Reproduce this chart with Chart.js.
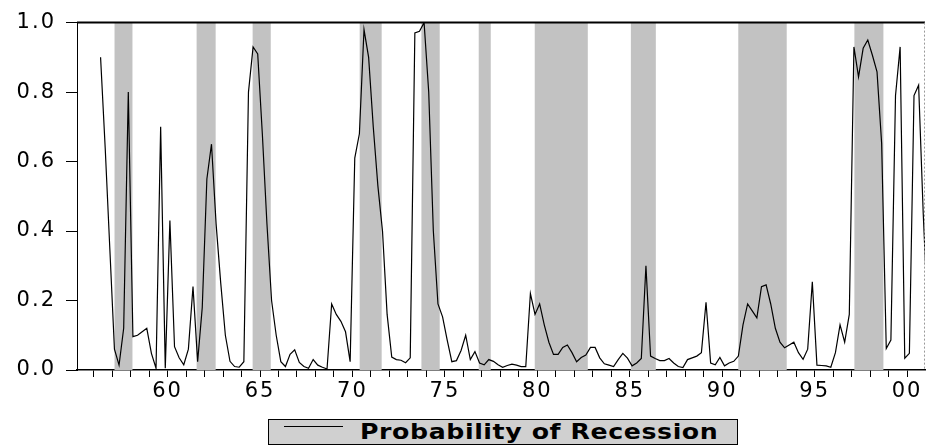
<!DOCTYPE html>
<html>
<head>
<meta charset="utf-8">
<script src="https://cdn.jsdelivr.net/npm/chart.js@4.4.1/dist/chart.umd.min.js"></script>
<style>
html,body{margin:0;padding:0;background:#fff;}
#wrap{position:relative;width:927px;height:446px;overflow:hidden;}
#legend{position:absolute;left:268px;top:419px;width:468px;height:24px;border:1px solid #000;background:#d0d0d0;}
#legend .sample{position:absolute;left:15px;top:6px;width:59px;height:0;border-top:1.5px solid #000;}
#legend .label{position:absolute;left:91px;top:0;font:bold 21px 'DejaVu Sans';line-height:24px;letter-spacing:0.5px;color:#000;white-space:nowrap;transform:scaleX(1.2);transform-origin:0 50%;}
</style>
</head>
<body>
<div id="wrap">
<canvas id="c" width="927" height="446"></canvas>
<div id="legend"><span class="sample"></span><span class="label">Probability of Recession</span></div>
</div>
<script>
// ---- data ----
const SERIES_NAME = 'Probability of Recession';
const START_YEAR = 1956;
const START_QUARTER = 2;
// quarterly probability of recession, 1956Q2 onward
const probability = [
  0.90, 0.64, 0.35, 0.06, 0.014, 0.12, 0.80, 0.096, 0.10, 0.11,
  0.12, 0.048, 0.005, 0.70, 0.005, 0.43, 0.067, 0.035, 0.015, 0.06,
  0.24, 0.024, 0.18, 0.55, 0.65, 0.42, 0.25, 0.10, 0.025, 0.01,
  0.008, 0.024, 0.80, 0.93, 0.91, 0.68, 0.42, 0.20, 0.10, 0.024,
  0.01, 0.045, 0.058, 0.022, 0.01, 0.005, 0.03, 0.014, 0.008, 0.003,
  0.19, 0.16, 0.14, 0.11, 0.024, 0.61, 0.68, 0.98, 0.90, 0.70,
  0.53, 0.40, 0.16, 0.037, 0.03, 0.028, 0.021, 0.035, 0.97, 0.975,
  1.00, 0.80, 0.40, 0.19, 0.153, 0.086, 0.024, 0.027, 0.056, 0.10,
  0.03, 0.053, 0.02, 0.015, 0.03, 0.025, 0.015, 0.008, 0.013, 0.017,
  0.014, 0.01, 0.01, 0.22, 0.16, 0.19, 0.13, 0.08, 0.045, 0.045,
  0.065, 0.072, 0.05, 0.024, 0.036, 0.043, 0.065, 0.065, 0.035, 0.018,
  0.014, 0.01, 0.03, 0.048, 0.034, 0.012, 0.02, 0.033, 0.30, 0.04,
  0.033, 0.027, 0.027, 0.033, 0.02, 0.01, 0.007, 0.03, 0.035, 0.04,
  0.05, 0.195, 0.02, 0.015, 0.036, 0.012, 0.02, 0.025, 0.04, 0.13,
  0.19, 0.17, 0.15, 0.24, 0.245, 0.19, 0.12, 0.08, 0.064, 0.072,
  0.08, 0.05, 0.031, 0.06, 0.254, 0.014, 0.013, 0.012, 0.008, 0.05,
  0.13, 0.08, 0.16, 0.93, 0.844, 0.926, 0.95, 0.906, 0.858, 0.652,
  0.062, 0.086, 0.79, 0.93, 0.034, 0.048, 0.79, 0.82, 0.45, 0.15
];
// shaded periods (start, end) in years since 1900
const bandStarts = [57.13, 61.57, 64.60, 70.39, 73.73, 76.83, 79.86, 85.06, 90.87, 97.15];
const bandEnds   = [58.10, 62.60, 65.58, 71.58, 74.72, 77.48, 82.73, 86.41, 93.49, 98.72];
const yTicks = [0, 0.2, 0.4, 0.6, 0.8, 1.0];
const xLabelYears = [60, 65, 70, 75, 80, 85, 90, 95, 100];
const xMinorFirst = 56, xMinorLast = 100;
const X_MIN = 55.10, X_MAX = 100.97;

// quarter labels, and each quarter's position (mid-quarter) on the year axis
const quarters = probability.map((_, i) => {
  const q0 = (START_QUARTER - 1) + i;
  return (START_YEAR + Math.floor(q0 / 4)) + 'Q' + (q0 % 4 + 1);
});
const points = probability.map((v, i) => {
  const q0 = (START_QUARTER - 1) + i;
  const yr = (START_YEAR - 1900) + Math.floor(q0 / 4) + (q0 % 4) / 4 + 0.125;
  return { x: yr, y: v, q: quarters[i] };
});

const bandPlugin = {
  id: 'bands',
  beforeDatasetsDraw(chart) {
    const { ctx, chartArea, scales } = chart;
    ctx.save();
    ctx.beginPath();
    ctx.rect(chartArea.left, chartArea.top, chartArea.right - chartArea.left, chartArea.bottom - chartArea.top);
    ctx.clip();
    ctx.fillStyle = '#c2c2c2';
    for (let k = 0; k < bandStarts.length; k++) {
      const x0 = scales.x.getPixelForValue(bandStarts[k]);
      const x1 = scales.x.getPixelForValue(bandEnds[k]);
      ctx.fillRect(x0, chartArea.top, x1 - x0, chartArea.bottom - chartArea.top);
    }
    ctx.restore();
  },
  afterDatasetsDraw(chart) {
    const { ctx, chartArea } = chart;
    ctx.save();
    ctx.strokeStyle = '#000';
    ctx.lineWidth = 2;
    ctx.beginPath();
    ctx.moveTo(chartArea.left, chartArea.top);
    ctx.lineTo(chartArea.right, chartArea.top);
    ctx.stroke();
    ctx.lineWidth = 1;
    ctx.strokeStyle = '#999';
    ctx.setLineDash([2, 2]);
    ctx.beginPath();
    ctx.moveTo(chartArea.right - 0.5, chartArea.top);
    ctx.lineTo(chartArea.right - 0.5, chartArea.bottom);
    ctx.stroke();
    ctx.restore();
  },
  beforeDraw(chart) {
    chart.ctx.letterSpacing = '2px';
  }
};

Chart.defaults.font.family = "'DejaVu Sans', sans-serif";
Chart.defaults.color = '#000';

new Chart(document.getElementById('c'), {
  type: 'line',
  data: {
    datasets: [{
      label: SERIES_NAME,
      data: points,
      borderColor: '#000',
      borderWidth: 1.2,
      pointRadius: 0,
      tension: 0,
      fill: false
    }]
  },
  options: {
    responsive: false,
    animation: false,
    devicePixelRatio: 1,
    layout: { padding: { top: 22, right: 2, bottom: 46, left: 0 } },
    plugins: { legend: { display: false }, tooltip: { enabled: false } },
    scales: {
      x: {
        type: 'linear',
        min: X_MIN,
        max: X_MAX,
        afterBuildTicks(scale) {
          const t = [];
          for (let y = xMinorFirst; y <= xMinorLast; y++) t.push({ value: y });
          scale.ticks = t;
        },
        afterFit(scale) { scale.height = 30; },
        ticks: {
          autoSkip: false,
          maxRotation: 0,
          padding: 2,
          font: { size: 21 },
          callback(v) {
            if (xLabelYears.includes(v)) return String(v % 100).padStart(2, '0');
            return '';
          }
        },
        grid: { drawOnChartArea: false, drawTicks: true, tickLength: 7, tickColor: '#000', tickWidth: 1 },
        border: { display: true, color: '#000', width: 1.5 }
      },
      y: {
        min: 0,
        max: 1,
        afterBuildTicks(scale) { scale.ticks = yTicks.map(v => ({ value: v })); },
        afterFit(scale) { scale.width = 77; },
        ticks: {
          padding: 10,
          font: { size: 21 },
          callback(v) { return Number(v).toFixed(1); }
        },
        grid: { drawOnChartArea: false, drawTicks: true, tickLength: 11, tickColor: '#000', tickWidth: 1 },
        border: { display: true, color: '#000', width: 1 }
      }
    }
  },
  plugins: [bandPlugin]
});
</script>
</body>
</html>
